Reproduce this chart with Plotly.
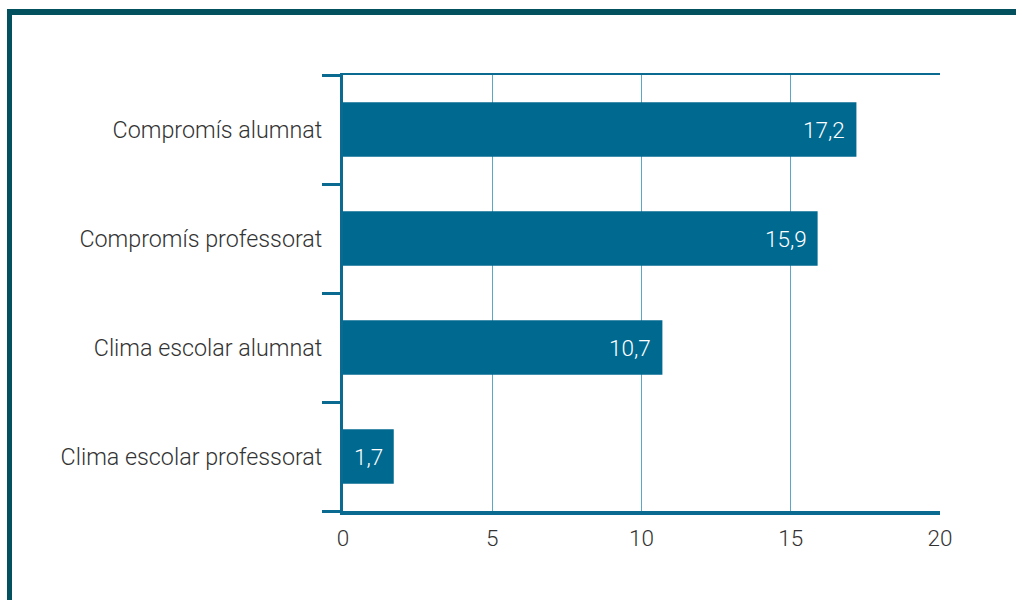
import plotly.graph_objects as go

# Data
categories = [
    "Compromís alumnat",
    "Compromís professorat",
    "Clima escolar alumnat",
    "Clima escolar professorat",
]
values = [17.2, 15.9, 10.7, 1.7]
x_ticks = [0, 5, 10, 15, 20]

BAR = "#006990"
AXIS = "#0a6a8f"
GRID = "#5ea7c4"
FRAME = "#03505f"
TEXT = "#333333"
FONT = "Roboto"
WEIGHT = 300

W, H = 1016, 600
L, R, T, B = 343, 940, 75, 511   # plot area in pixels

n = len(categories)
ypos = list(range(n))

labels = [f"{v:.1f}".replace(".", ",") for v in values]

fig = go.Figure()
fig.add_trace(go.Bar(
    x=values, y=ypos, orientation="h",
    marker=dict(color=BAR, line=dict(width=0)),
    width=0.5,
    hoverinfo="skip",
))

# value labels inside the bar ends
for v, yv, lab in zip(values, ypos, labels):
    fig.add_annotation(
        x=v, y=yv, xref="x", yref="y", text=lab, showarrow=False,
        xanchor="right", yanchor="middle", xshift=-9,
        font=dict(color="white", size=22.5, family=FONT, weight=WEIGHT),
    )

# invisible trace on secondary axes to carry boundary tick marks
bounds = [i - 0.5 for i in range(n + 1)]
fig.add_trace(go.Scatter(x=[None], y=[None], yaxis="y2", xaxis="x2",
                         showlegend=False, hoverinfo="skip"))

def px_to_paper_x(px):
    return (px - L) / (R - L)

def px_to_paper_y(py):
    return (B - py) / (B - T)

# outer frame (top and left rules)
fig.add_shape(type="rect", xref="paper", yref="paper",
              x0=px_to_paper_x(7), x1=px_to_paper_x(W + 5),
              y0=px_to_paper_y(15), y1=px_to_paper_y(9),
              fillcolor=FRAME, line=dict(width=0), layer="above")
fig.add_shape(type="rect", xref="paper", yref="paper",
              x0=px_to_paper_x(7), x1=px_to_paper_x(12),
              y0=px_to_paper_y(H + 5), y1=px_to_paper_y(9),
              fillcolor=FRAME, line=dict(width=0), layer="above")

fig.update_layout(
    width=W, height=H,
    margin=dict(l=L, r=W - R, t=T, b=H - B),
    paper_bgcolor="white", plot_bgcolor="white",
    showlegend=False,
    font=dict(family=FONT, color=TEXT, size=22, weight=WEIGHT),
    xaxis=dict(
        range=[0, 20], tickvals=x_ticks, ticktext=[str(v) for v in x_ticks],
        showgrid=True, gridcolor=GRID, gridwidth=1,
        zeroline=False, showline=True, linecolor=AXIS, linewidth=4,
        ticks="", ticklabelstandoff=4,
        tickfont=dict(size=22.5, color=TEXT, family=FONT, weight=WEIGHT),
        fixedrange=True,
    ),
    xaxis2=dict(
        overlaying="x", side="top", range=[0, 20], showline=True,
        linecolor=AXIS, linewidth=1.5, showticklabels=False, ticks="",
        showgrid=False, zeroline=False,
    ),
    yaxis=dict(
        range=[n - 0.5, -0.5], tickvals=ypos, ticktext=categories,
        showgrid=False, zeroline=False, showline=True, linecolor=AXIS,
        linewidth=3, ticks="", ticklabelstandoff=13,
        tickfont=dict(size=23.3, color=TEXT, family=FONT, weight=WEIGHT),
    ),
    yaxis2=dict(
        overlaying="y", side="left", range=[n - 0.5, -0.5],
        tickvals=bounds, showticklabels=False, ticks="outside",
        ticklen=20, tickwidth=3, tickcolor=AXIS,
        showgrid=False, zeroline=False, showline=False,
    ),
)

fig.write_html("out.html")
